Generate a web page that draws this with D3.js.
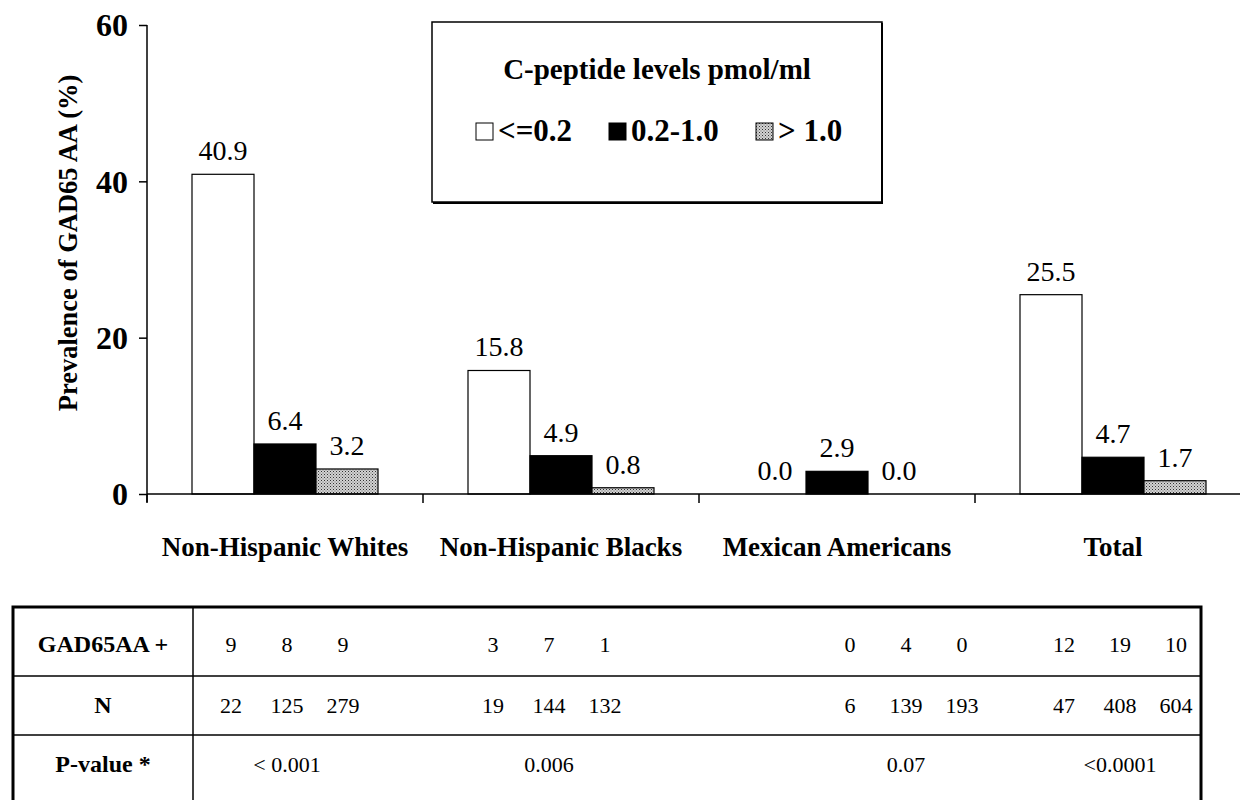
<!DOCTYPE html>
<html lang="en">
<head>
  <meta charset="UTF-8" />
  <title>GAD65 AA prevalence by C-peptide level</title>
  <style>
    body { margin: 0; background: #fff; }
    svg, svg text { font-family: "Liberation Serif", Tinos, "Times New Roman", Times, "DejaVu Serif", serif !important; }
    svg text { fill: #000; }
    .bold { font-weight: bold; }
  </style>
  <script src="https://d3js.org/d3.v7.min.js"></script>
</head>
<body>
  <div id="chart"></div>
  <script type="text/javascript">
    // data
    const groups = ["Non-Hispanic Whites", "Non-Hispanic Blacks", "Mexican Americans", "Total"];
    const levels = ["<=0.2", "0.2-1.0", "> 1.0"];
    const prevLow = [40.9, 15.8, 0.0, 25.5];
    const prevMid = [6.4, 4.9, 2.9, 4.7];
    const prevHigh = [3.2, 0.8, 0.0, 1.7];
    const posLow = [9, 3, 0, 12];
    const posMid = [8, 7, 4, 19];
    const posHigh = [9, 1, 0, 10];
    const nLow = [22, 19, 6, 47];
    const nMid = [125, 144, 139, 408];
    const nHigh = [279, 132, 193, 604];
    const pValues = ["< 0.001", "0.006", "0.07", "<0.0001"];
    const yTicks = [0, 20, 40, 60];

    const W = 1240, H = 800;
    const svg = d3.select("#chart").append("svg")
      .attr("width", W)
      .attr("height", H);

    // stipple fill for > 1.0
    const pat = svg.append("defs").append("pattern")
      .attr("id", "dots")
      .attr("width", 3).attr("height", 3)
      .attr("patternUnits", "userSpaceOnUse");
    pat.append("rect").attr("width", 3).attr("height", 3).attr("fill", "#d2d2d2");
    pat.append("rect").attr("width", 1).attr("height", 1).attr("fill", "#333");
    pat.append("rect").attr("x", 1.5).attr("y", 1.5).attr("width", 1).attr("height", 1).attr("fill", "#666");

    const fills = ["#fff", "#000", "url(#dots)"];
    const series = [prevLow, prevMid, prevHigh];

    const axisLeft = 147, axisRight = 1251;
    const y = d3.scaleLinear().domain([0, 60]).range([494, 25]);
    const x0 = d3.scaleBand().domain(groups).range([axisLeft, axisRight]);
    const x1 = d3.scaleBand().domain(levels).range([45, x0.bandwidth() - 45]);

    // y axis
    const yAxis = svg.append("g")
      .attr("transform", `translate(${axisLeft},0)`)
      .call(d3.axisLeft(y).tickValues(yTicks).tickSize(8).tickPadding(11).tickSizeOuter(0));
    yAxis.attr("font-family", null);
    yAxis.select(".domain").attr("d", `M0,${y(60)}V${y(0) + 8}`).attr("stroke-width", 1.5);
    yAxis.selectAll(".tick line").attr("stroke-width", 1.5);
    yAxis.selectAll("text")
      .attr("class", "bold")
      .attr("dy", "0.34em")
      .style("font-size", "32px");

    svg.append("text")
      .attr("class", "bold")
      .attr("transform", `translate(77,243) rotate(-90)`)
      .attr("text-anchor", "middle")
      .style("font-size", "26.5px")
      .text("Prevalence of GAD65 AA (%)");

    // bars
    const barData = [];
    groups.forEach((g, gi) => {
      levels.forEach((l, li) => {
        barData.push({ group: g, level: l, li: li, value: series[li][gi] });
      });
    });

    svg.selectAll(".bar")
      .data(barData)
      .enter().append("rect")
      .attr("class", "bar")
      .attr("x", d => x0(d.group) + x1(d.level))
      .attr("y", d => y(d.value))
      .attr("width", x1.bandwidth())
      .attr("height", d => y(0) - y(d.value))
      .attr("fill", d => fills[d.li])
      .attr("stroke", "#000")
      .attr("stroke-width", 1.2);

    svg.selectAll(".val")
      .data(barData)
      .enter().append("text")
      .attr("class", "val")
      .attr("x", d => x0(d.group) + x1(d.level) + x1.bandwidth() / 2)
      .attr("y", d => y(d.value) - 14)
      .attr("text-anchor", "middle")
      .style("font-size", "28px")
      .text(d => d.value.toFixed(1));

    // x axis
    const xAxis = svg.append("g")
      .attr("transform", `translate(0,${y(0)})`);
    xAxis.append("line")
      .attr("x1", axisLeft).attr("x2", W)
      .attr("stroke", "#000").attr("stroke-width", 1.5);
    xAxis.selectAll(".tk")
      .data(groups)
      .enter().append("line")
      .attr("x1", d => x0(d)).attr("x2", d => x0(d))
      .attr("y1", 0).attr("y2", 9)
      .attr("stroke", "#000").attr("stroke-width", 1.5);

    svg.selectAll(".cat")
      .data(groups)
      .enter().append("text")
      .attr("class", "bold")
      .attr("x", d => x0(d) + x0.bandwidth() / 2)
      .attr("y", 556)
      .attr("text-anchor", "middle")
      .style("font-size", "27px")
      .text(d => d);

    // legend
    const lg = svg.append("g").attr("transform", "translate(432,22)");
    lg.append("rect")
      .attr("width", 450).attr("height", 180)
      .attr("fill", "#fff").attr("stroke", "#000").attr("stroke-width", 1.5);
    lg.append("path")
      .attr("d", "M450,1V181H1")
      .attr("fill", "none").attr("stroke", "#000").attr("stroke-width", 2);
    lg.append("text")
      .attr("class", "bold")
      .attr("x", 225).attr("y", 57)
      .attr("text-anchor", "middle")
      .style("font-size", "29px")
      .text("C-peptide levels pmol/ml");

    const legendX = d3.scaleOrdinal().domain(levels).range([44, 177, 324]);
    const item = lg.selectAll(".item")
      .data(levels)
      .enter().append("g")
      .attr("transform", d => `translate(${legendX(d)},101)`);
    item.append("rect")
      .attr("width", 17).attr("height", 17)
      .attr("fill", (d, i) => fills[i])
      .attr("stroke", "#000").attr("stroke-width", 1);
    item.append("text")
      .attr("class", "bold")
      .attr("x", 22).attr("y", 18)
      .style("font-size", "31px")
      .text(d => d);

    // table under the chart
    const tLeft = 13, tRight = 1201, tDiv = 193;
    const rowTop = [607, 676, 735], rowBottom = 812;
    const rowLabels = ["GAD65AA +", "N", "P-value *"];
    const colCenter = d3.scaleOrdinal().domain(groups).range([287, 549, 906, 1120]);
    const subOffset = d3.scalePoint().domain(levels).range([-56, 56]);

    const tb = svg.append("g");
    tb.append("rect")
      .attr("x", tLeft).attr("y", rowTop[0])
      .attr("width", tRight - tLeft).attr("height", rowBottom - rowTop[0])
      .attr("fill", "none").attr("stroke", "#000").attr("stroke-width", 3);
    tb.append("line")
      .attr("x1", tDiv).attr("x2", tDiv).attr("y1", rowTop[0]).attr("y2", rowBottom)
      .attr("stroke", "#000").attr("stroke-width", 1.5);
    tb.selectAll(".rl")
      .data(rowTop.slice(1))
      .enter().append("line")
      .attr("x1", tLeft).attr("x2", tRight)
      .attr("y1", d => d).attr("y2", d => d)
      .attr("stroke", "#000").attr("stroke-width", 1.5);

    const rowMid = [644, 705, 764];
    tb.selectAll(".rlab")
      .data(rowLabels)
      .enter().append("text")
      .attr("class", "bold")
      .attr("x", (tLeft + tDiv) / 2)
      .attr("y", (d, i) => rowMid[i] + 8)
      .attr("text-anchor", "middle")
      .style("font-size", "24px")
      .text(d => d);

    const countRows = [[posLow, posMid, posHigh], [nLow, nMid, nHigh]];
    countRows.forEach((row, ri) => {
      const cells = [];
      groups.forEach((g, gi) => {
        levels.forEach((l, li) => cells.push({ g: g, l: l, v: row[li][gi] }));
      });
      tb.selectAll(".c" + ri)
        .data(cells)
        .enter().append("text")
        .attr("x", d => colCenter(d.g) + subOffset(d.l))
        .attr("y", rowMid[ri] + 8)
        .attr("text-anchor", "middle")
        .style("font-size", "22px")
        .text(d => d.v);
    });

    tb.selectAll(".pv")
      .data(pValues)
      .enter().append("text")
      .attr("x", (d, i) => colCenter(groups[i]))
      .attr("y", rowMid[2] + 8)
      .attr("text-anchor", "middle")
      .style("font-size", "22px")
      .text(d => d);
  </script>
</body>
</html>
